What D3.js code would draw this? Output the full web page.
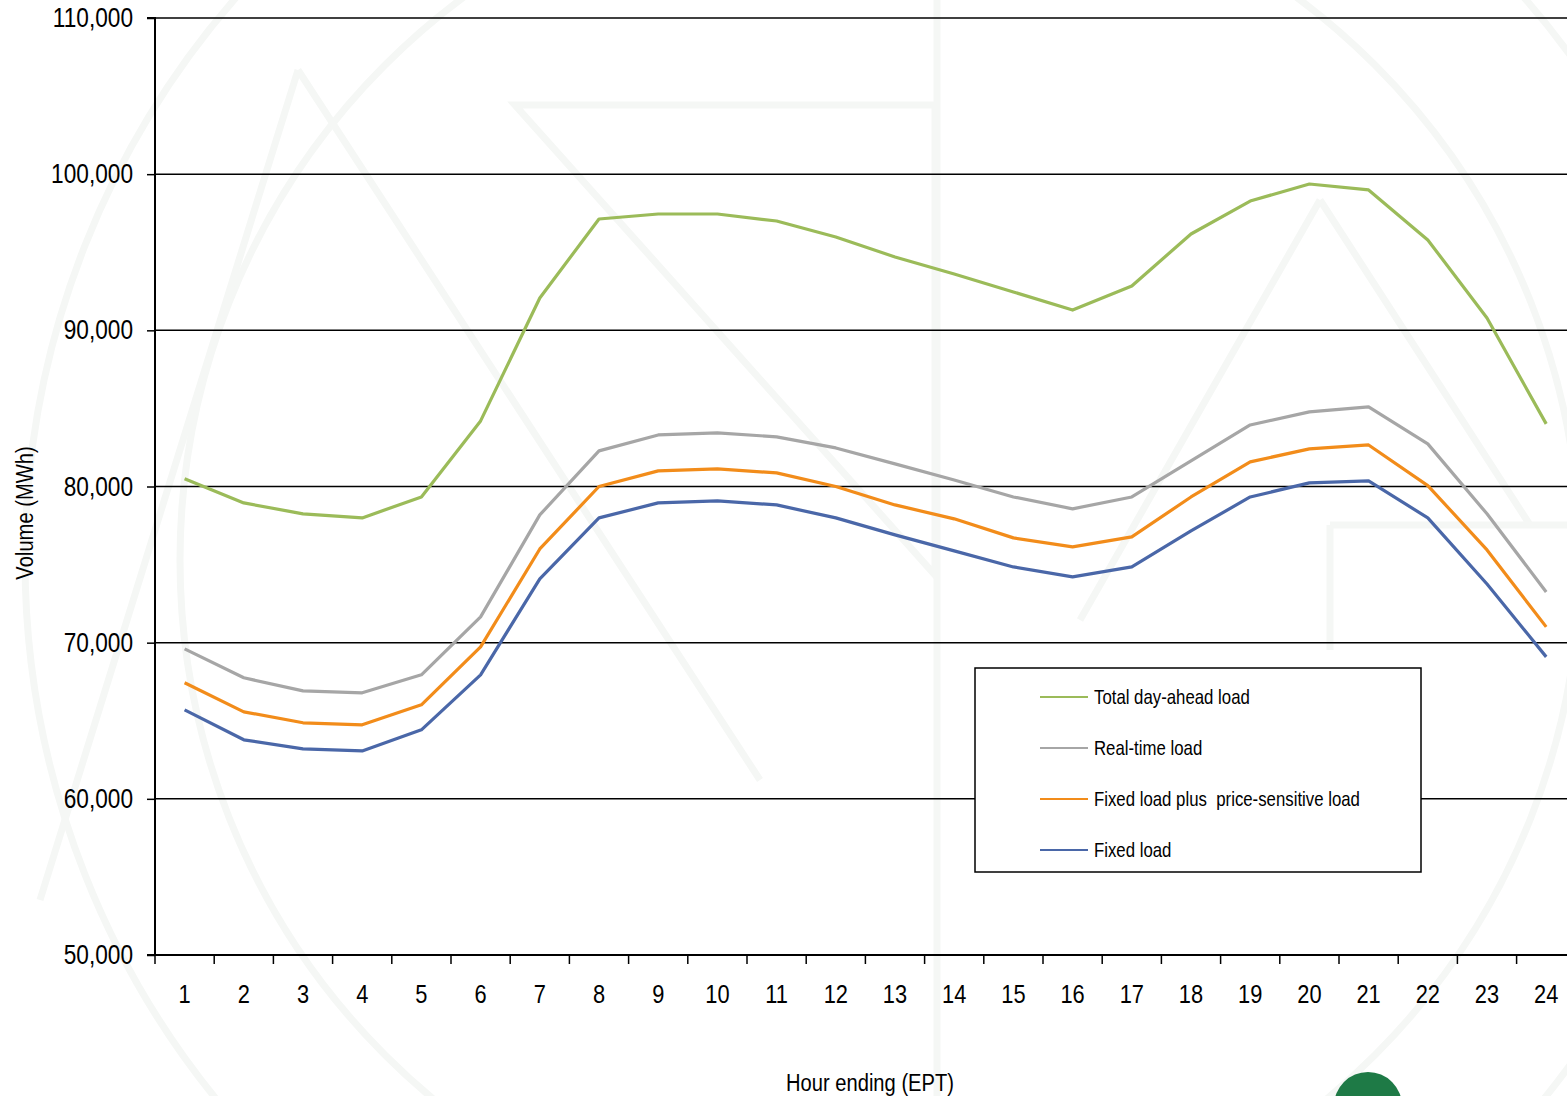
<!DOCTYPE html>
<html>
<head>
<meta charset="utf-8">
<script src="https://cdn.jsdelivr.net/npm/d3@7"></script>
<style>
  body { margin: 0; background: #fff; }
  svg { display: block; font-family: "Liberation Sans Narrow", "Arial Narrow", "Liberation Sans", sans-serif; }
</style>
</head>
<body>
<div class="chart"></div>
<script>
// hours (categories)
var hours = d3.range(1, 25);

// series values, MWh
var totalDayAhead = [80490, 78950, 78250, 77990, 79330, 84200, 92070, 97130, 97450, 97450, 97000, 95980,
                     94700, 93610, 92460, 91300, 92840, 96170, 98280, 99370, 98990, 95790, 90790, 84010];
var realTime      = [69600, 67750, 66910, 66790, 67940, 71650, 78180, 82280, 83300, 83430, 83180, 82470,
                     81450, 80420, 79330, 78570, 79330, 81640, 83940, 84780, 85100, 82730, 78250, 73250];
var fixedPlusPS   = [67430, 65570, 64870, 64740, 66020, 69730, 76000, 80000, 81000, 81130, 80870, 80000,
                     78820, 77930, 76710, 76130, 76770, 79330, 81580, 82410, 82660, 80060, 75940, 71010];
var fixedLoad     = [65700, 63780, 63200, 63070, 64420, 67940, 74090, 77990, 78950, 79080, 78820, 77990,
                     76900, 75880, 74850, 74210, 74850, 77160, 79330, 80230, 80360, 77990, 73760, 69090];

var seriesNames  = ["Total day-ahead load", "Real-time load", "Fixed load plus  price-sensitive load", "Fixed load"];
var seriesValues = [totalDayAhead, realTime, fixedPlusPS, fixedLoad];
var seriesColors = ["#9bbb59", "#a6a6a6", "#f28c1a", "#4a67a8"];

var yTicks = [50000, 60000, 70000, 80000, 90000, 100000, 110000];

var svgWidth = 1567;
var svgHeight = 1096;

var margin = { top: 18, left: 155 };
var height = 937;
var bandW = 59.2;
var narrowK = 0.84; // squeeze text, no narrow font installed

var svg = d3.select(".chart")
    .append("svg")
    .attr("width", svgWidth)
    .attr("height", svgHeight);

// faint watermark in the background
var wm = svg.append("g")
    .attr("fill", "none")
    .attr("stroke", "#f5f7f5")
    .attr("stroke-width", 7);
wm.append("circle").attr("cx", 880).attr("cy", 560).attr("r", 855);
wm.append("circle").attr("cx", 880).attr("cy", 560).attr("r", 700);
wm.append("path").attr("d", "M298,70 L40,900 M298,70 L760,780");
wm.append("path").attr("d", "M515,105 L935,105 L935,575 Z");
wm.append("path").attr("d", "M1320,200 L1080,620 M1320,200 L1530,525 M1330,525 L1567,525 M1330,525 L1330,650");
wm.append("path").attr("d", "M937,0 L937,1096");

var chartGroup = svg.append("g")
    .attr("transform", `translate(${margin.left}, ${margin.top})`);

var xScale = d3.scaleBand()
    .domain(hours)
    .range([0, bandW * hours.length]);

var yScale = d3.scaleLinear()
    .domain([50000, 110000])
    .range([height, 0]);

// gridlines
chartGroup.append("g")
    .selectAll("line")
    .data(yTicks.slice(1))
    .enter()
    .append("line")
    .attr("x1", 0)
    .attr("x2", svgWidth)
    .attr("y1", d => yScale(d))
    .attr("y2", d => yScale(d))
    .attr("stroke", "#000")
    .attr("stroke-width", 1.5);

// y axis
var leftAxis = d3.axisLeft(yScale)
    .tickValues(yTicks)
    .tickSize(8)
    .tickPadding(14)
    .tickFormat(d3.format(","));

var yAxisG = chartGroup.append("g").call(leftAxis);
yAxisG.select(".domain").attr("stroke-width", 2).attr("d", `M-8,${height}H0V0H-8`);
yAxisG.selectAll(".tick line").attr("stroke-width", 1.5);
yAxisG.selectAll("text")
    .attr("font-size", 27)
    .attr("fill", "#000")
    .attr("font-family", null)
    .attr("x", -22 / narrowK)
    .attr("transform", `scale(${narrowK},1)`);

// x axis: ticks sit between categories
var botAxis = d3.axisBottom(xScale)
    .tickSize(0)
    .tickPadding(30);

var xAxisG = chartGroup.append("g")
    .attr("transform", `translate(0, ${height})`)
    .call(botAxis);
xAxisG.select(".domain").attr("stroke-width", 2).attr("d", `M0,0H${svgWidth}`);
xAxisG.selectAll("text")
    .attr("font-size", 26)
    .attr("fill", "#000")
    .attr("font-family", null)
    .attr("transform", `scale(${narrowK},1)`);

xAxisG.selectAll(".sep")
    .data(hours)
    .enter()
    .append("line")
    .attr("class", "sep")
    .attr("x1", d => xScale(d))
    .attr("x2", d => xScale(d))
    .attr("y1", 0)
    .attr("y2", 9)
    .attr("stroke", "#000")
    .attr("stroke-width", 1.5);

// lines
var lineGen = d3.line()
    .x((d, i) => xScale(hours[i]) + xScale.bandwidth() / 2)
    .y(d => yScale(d));

chartGroup.selectAll(".series")
    .data(seriesValues)
    .enter()
    .append("path")
    .attr("class", "series")
    .attr("d", d => lineGen(d))
    .attr("fill", "none")
    .attr("stroke", (d, i) => seriesColors[i])
    .attr("stroke-width", 3.2)
    .attr("stroke-linejoin", "round");

// legend
var legend = svg.append("g")
    .attr("transform", "translate(975, 668)");

legend.append("rect")
    .attr("width", 446)
    .attr("height", 204)
    .attr("fill", "#fff")
    .attr("stroke", "#000")
    .attr("stroke-width", 1.5);

var legendItems = legend.selectAll(".item")
    .data(seriesNames)
    .enter()
    .append("g")
    .attr("class", "item")
    .attr("transform", (d, i) => `translate(0, ${29 + i * 51})`);

legendItems.append("line")
    .attr("x1", 65)
    .attr("x2", 113)
    .attr("stroke", (d, i) => seriesColors[i])
    .attr("stroke-width", 2);

legendItems.append("text")
    .attr("transform", `translate(119,0) scale(${narrowK},1)`)
    .attr("dy", "0.35em")
    .attr("font-size", 20)
    .attr("fill", "#000")
    .style("white-space", "pre")
    .text(d => d);

// axis titles
svg.append("text")
    .attr("transform", `translate(33, 513) rotate(-90) scale(${narrowK},1)`)
    .attr("text-anchor", "middle")
    .attr("font-size", 24)
    .text("Volume (MWh)");

svg.append("text")
    .attr("transform", `translate(870, 1091) scale(${narrowK},1)`)
    .attr("text-anchor", "middle")
    .attr("font-size", 24)
    .text("Hour ending (EPT)");

// logo corner (cut off at the bottom)
svg.append("circle")
    .attr("cx", 1368)
    .attr("cy", 1106)
    .attr("r", 34)
    .attr("fill", "#1e7a46");
</script>
</body>
</html>
